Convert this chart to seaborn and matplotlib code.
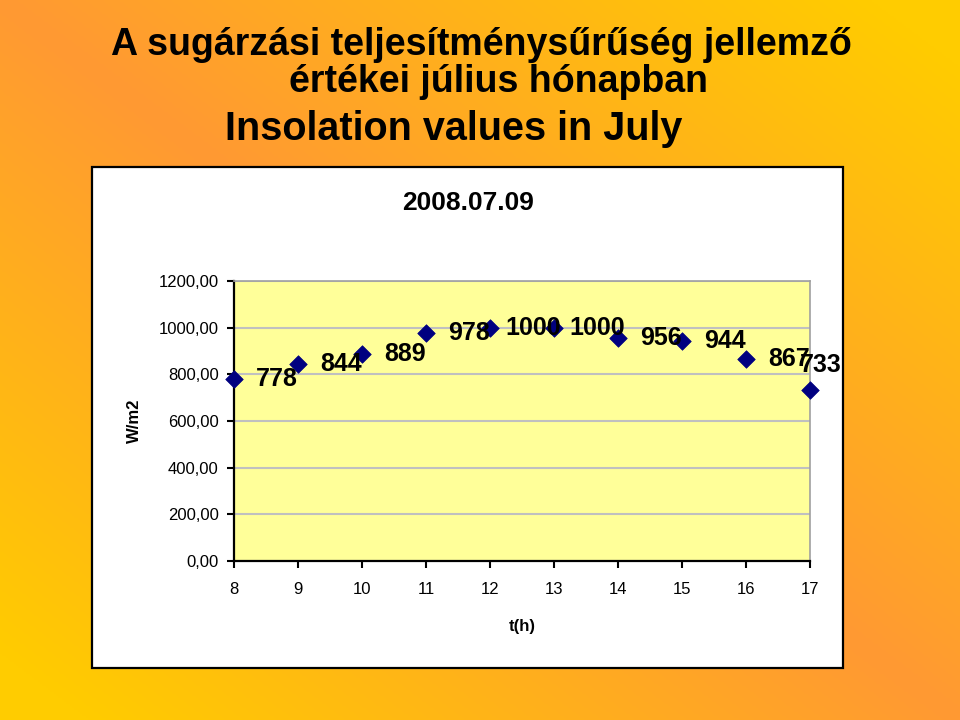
import numpy as np
import pandas as pd
import matplotlib
matplotlib.use("Agg")
import matplotlib.pyplot as plt
from matplotlib.patches import Rectangle
from matplotlib import font_manager
import seaborn as sns

# ---- data ----
hours = [8, 9, 10, 11, 12, 13, 14, 15, 16, 17]
values = [778, 844, 889, 978, 1000, 1000, 956, 944, 867, 733]
labels = ["778", "844", "889", "978", "1000", "1000", "956", "944", "867", "733"]
y_ticks = [0, 200, 400, 600, 800, 1000, 1200]
y_tick_labels = ["0,00", "200,00", "400,00", "600,00", "800,00", "1000,00", "1200,00"]
title_lines = ["A sugárzási teljesítménysűrűség jellemző",
               "értékei július hónapban",
               "Insolation values in July"]
chart_title = "2008.07.09"
x_label = "t(h)"
y_label = "W/m2"

sns.set_style("white")
plt.rcParams["font.family"] = ["Liberation Sans", "DejaVu Sans"]
plt.rcParams["text.color"] = "black"
plt.rcParams["axes.labelcolor"] = "black"
plt.rcParams["xtick.color"] = "black"
plt.rcParams["ytick.color"] = "black"

names = {f.name for f in font_manager.fontManager.ttflist}
narrow = "Liberation Sans Narrow" if "Liberation Sans Narrow" in names else "Liberation Sans"

df = pd.DataFrame({"t": hours, "W": values})

fig = plt.figure(figsize=(9.6, 7.2), dpi=100)

# background gradient
bg = fig.add_axes([0, 0, 1, 1])
H, W = 360, 480
yy, xx = np.mgrid[0:H, 0:W]
t = np.clip(np.abs(xx / (W - 1) - yy / (H - 1)) * 1.1, 0, 1)
orange = np.array([255, 153, 51]) / 255
yellow = np.array([255, 204, 0]) / 255
img = orange[None, None, :] + (yellow - orange)[None, None, :] * t[..., None]
bg.imshow(img, extent=[0, 1, 0, 1], aspect="auto", origin="upper", zorder=0)
bg.set_xlim(0, 1)
bg.set_ylim(0, 1)
bg.axis("off")

# white chart box
bg.add_patch(Rectangle((92 / 960, 1 - 668 / 720), 751 / 960, 501 / 720,
                       facecolor="white", edgecolor="black", lw=1.6, zorder=1))

# titles
title_pos = [(481 / 960, 1 - 45 / 720), (498 / 960, 1 - 82 / 720), (454 / 960, 1 - 129 / 720)]
title_sizes = [27, 27, 28.5]
for (tx, ty), line, fs in zip(title_pos, title_lines, title_sizes):
    fig.text(tx, ty, line, ha="center", va="center", fontsize=fs,
             fontweight="bold", family=[narrow, "DejaVu Sans"], color="black")

fig.text(468 / 960, 1 - 203 / 720, chart_title, ha="center", va="center",
         fontsize=19, fontweight="bold", color="black")

# main axes
ax = fig.add_axes([234 / 960, 1 - 561 / 720, (810 - 234) / 960, (561 - 281) / 720])
ax.set_facecolor("#FFFF99")
ax.set_zorder(2)

sns.scatterplot(data=df, x="t", y="W", marker="D", color="#000080", s=80,
                edgecolor="#000080", linewidth=0.5, ax=ax, zorder=5, clip_on=False)

for i, (xv, yv, lab) in enumerate(zip(hours, values, labels)):
    off = (31, 0) if i < len(hours) - 1 else (8, 18)
    ax.annotate(lab, (xv, yv), xytext=off, textcoords="offset points",
                ha="center", va="center", fontsize=18, fontweight="bold",
                color="black", zorder=6, annotation_clip=False)

ax.set_xlim(8, 17)
ax.set_ylim(0, 1200)
ax.set_xticks(hours)
ax.set_xticklabels([str(h) for h in hours], fontsize=12)
ax.set_yticks(y_ticks)
ax.set_yticklabels(y_tick_labels, fontsize=12)
ax.yaxis.grid(True, color="#C0C0C0", lw=1.5)
ax.xaxis.grid(False)
ax.set_axisbelow(True)

for side in ["left", "bottom"]:
    ax.spines[side].set_color("black")
    ax.spines[side].set_linewidth(1.6)
for side in ["top", "right"]:
    ax.spines[side].set_color("#A0A0A0")
    ax.spines[side].set_linewidth(1.2)
ax.spines["top"].set_visible(True)
ax.spines["right"].set_visible(True)

ax.tick_params(axis="both", direction="out", length=5, width=1.5, color="black",
               labelsize=12, labelcolor="black")
ax.tick_params(axis="x", pad=10)
ax.tick_params(axis="y", pad=6)
ax.tick_params(left=True, bottom=True)

ax.set_xlabel(x_label, fontsize=12, fontweight="bold", labelpad=16, color="black")
ax.set_ylabel(y_label, fontsize=12, fontweight="bold", labelpad=12, color="black")

fig.savefig("out.png", dpi=100)
